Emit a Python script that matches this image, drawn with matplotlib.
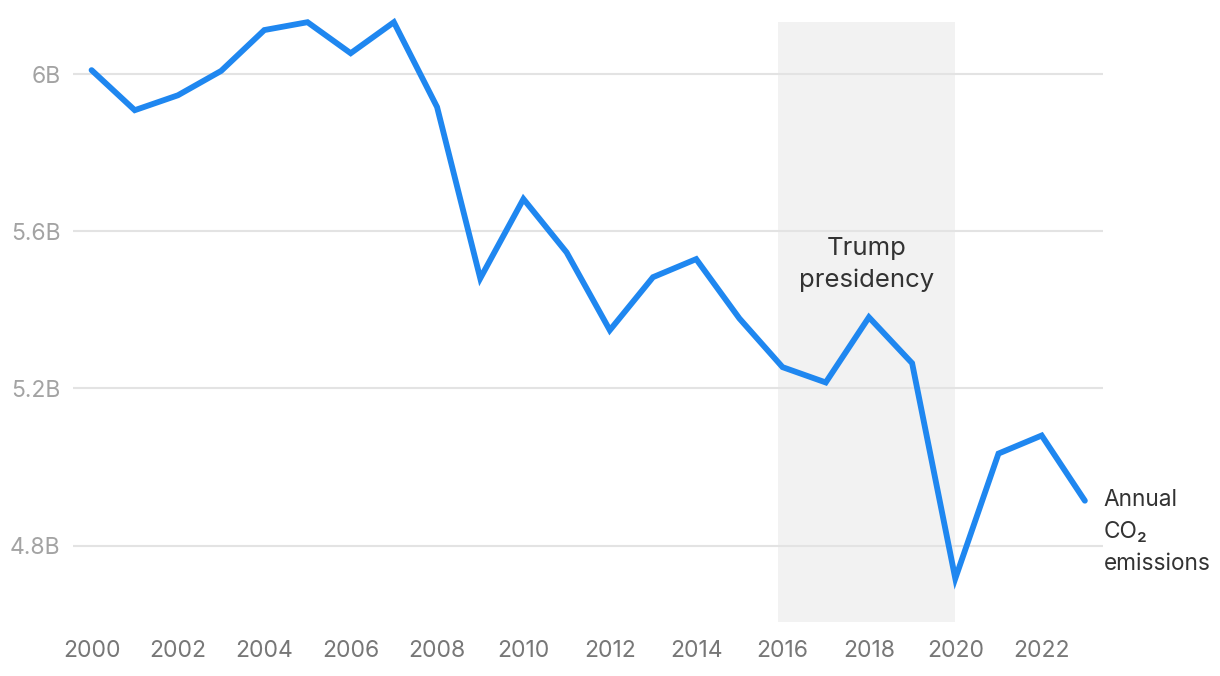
import matplotlib
matplotlib.use("Agg")
import matplotlib.pyplot as plt

years = list(range(2000, 2024))
emissions_b = [6.010, 5.908, 5.946, 6.008, 6.112, 6.132, 6.053, 6.132, 5.916,
               5.480, 5.682, 5.546, 5.348, 5.483, 5.529, 5.378, 5.254, 5.215,
               5.381, 5.264, 4.716, 5.034, 5.080, 4.914]
y_ticks = [4.8, 5.2, 5.6, 6.0]
y_tick_labels = ["4.8B", "5.2B", "5.6B", "6B"]
x_ticks = list(range(2000, 2024, 2))
shade_start, shade_end = 2015.9, 2020.0
shade_label = "Trump\npresidency"
series_label = "Annual\nCO₂\nemissions"

plt.rcParams['font.family'] = ['Inter', 'DejaVu Sans']

fig = plt.figure(figsize=(12.2, 6.76), dpi=100)
ax = fig.add_axes([73/1220, 1 - 622/676, (1103-73)/1220, (622-22)/676])

ax.axvspan(shade_start, shade_end, color='#f2f2f2', zorder=0, lw=0)
for t in y_ticks:
    ax.axhline(t, color='#e3e3e3', lw=1.5, zorder=1)
ax.plot(years, emissions_b, color='#1f87f0', lw=4.2, solid_capstyle='round',
        solid_joinstyle='miter', zorder=3, clip_on=False)

ax.set_xlim(1999.57, 2023.42)
ax.set_ylim(4.6053, 6.1325)
ax.set_yticks(y_ticks)
ax.set_yticklabels(y_tick_labels)
ax.set_xticks(x_ticks)
ax.set_xticklabels([str(x) for x in x_ticks])
ax.tick_params(axis='both', length=0, labelsize=16.5)
ax.tick_params(axis='y', pad=9, labelcolor='#a3a3a3')
ax.tick_params(axis='x', pad=13, labelcolor='#777777')
for s in ax.spines.values():
    s.set_visible(False)

ax.text((shade_start + shade_end) / 2, 5.515, shade_label, ha='center', va='center',
        fontsize=18.5, color='#333333', linespacing=1.5)
ax.text(years[-1] + 0.43, emissions_b[-1] + 0.03, series_label, ha='left', va='top',
        fontsize=16.3, color='#333333', linespacing=1.6)

fig.savefig("out.png", dpi=100)
